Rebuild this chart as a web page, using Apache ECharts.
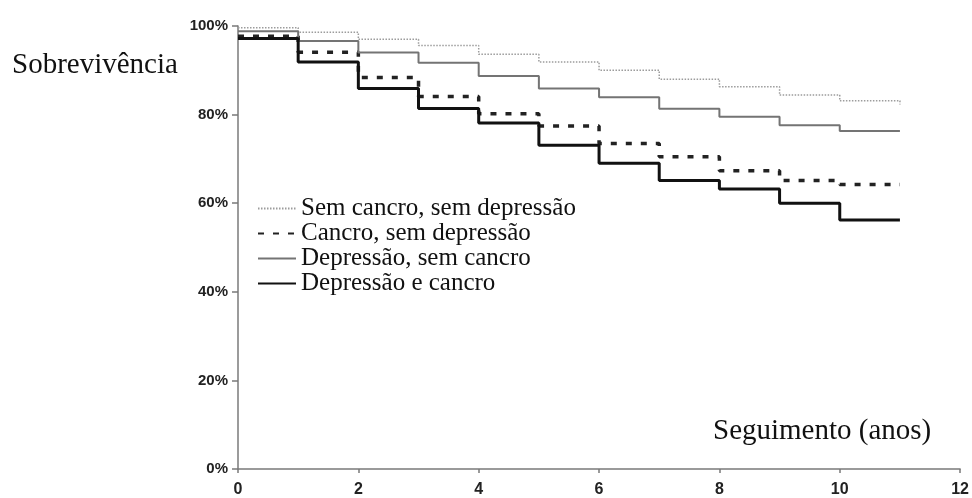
<!DOCTYPE html>
<html>
<head>
<meta charset="utf-8">
<script src="https://cdn.jsdelivr.net/npm/echarts@6/dist/echarts.min.js"></script>
<style>html,body{margin:0;padding:0;background:#fff}#c{width:972px;height:498px}</style>
</head>
<body>
<div id="c"></div>
<script>
// Years of follow-up (step starts); the last point closes the curve at year 11
var years = [0, 1, 2, 3, 4, 5, 6, 7, 8, 9, 10, 11];
var seriesNames = ['Sem cancro, sem depressão', 'Cancro, sem depressão', 'Depressão, sem cancro', 'Depressão e cancro'];
var semCancroSemDepressao = [99.6, 98.6, 97.0, 95.6, 93.6, 91.9, 90.0, 88.0, 86.3, 84.4, 83.1, 82.3];
var cancroSemDepressao   = [97.7, 94.1, 88.4, 84.1, 80.2, 77.4, 73.5, 70.5, 67.3, 65.1, 64.2, 64.2];
var depressaoSemCancro   = [98.8, 96.6, 94.0, 91.7, 88.7, 85.9, 83.9, 81.3, 79.5, 77.6, 76.3, 76.3];
var depressaoECancro     = [97.2, 91.9, 85.9, 81.4, 78.1, 73.1, 69.0, 65.1, 63.2, 60.0, 56.2, 56.2];
var yTickLabels = ['0%', '20%', '40%', '60%', '80%', '100%'];
var xTickLabels = ['0', '2', '4', '6', '8', '10', '12'];
var yTitle = 'Sobrevivência';
var xTitle = 'Seguimento (anos)';

function pairs(vals) { return years.map(function (y, i) { return [y, vals[i]]; }); }

var styles = [
  { color: '#9c9c9c', width: 1.5, type: [1.5, 1.5] },
  { color: '#222222', width: 3.5, type: [6, 9] },
  { color: '#747474', width: 2, type: 'solid' },
  { color: '#111111', width: 3, type: 'solid' }
];
var allVals = [semCancroSemDepressao, cancroSemDepressao, depressaoSemCancro, depressaoECancro];

var chart = echarts.init(document.getElementById('c'), null, { renderer: 'canvas' });
var sansFont = 'Liberation Sans, Arial, sans-serif';
var serifFont = 'Liberation Serif, Times New Roman, serif';

chart.setOption({
  animation: false,
  backgroundColor: '#ffffff',
  title: [
    { text: yTitle, left: 12, top: 51, padding: 0,
      textStyle: { fontFamily: serifFont, fontWeight: 'normal', fontSize: 29, color: '#111', lineHeight: 29 } },
    { text: xTitle, left: 713, top: 417, padding: 0,
      textStyle: { fontFamily: serifFont, fontWeight: 'normal', fontSize: 29, color: '#111', lineHeight: 29 } }
  ],
  legend: {
    orient: 'vertical',
    left: 257, top: 196,
    padding: 0,
    itemGap: 0,
    itemWidth: 38,
    itemHeight: 14,
    data: seriesNames,
    itemStyle: { opacity: 0 },
    textStyle: { fontFamily: serifFont, fontSize: 25, color: '#111', lineHeight: 24.5 }
  },
  grid: { left: 238, right: 10, top: 26, bottom: 29 },
  xAxis: {
    type: 'value', min: 0, max: 12, interval: 2,
    axisLine: { show: true, lineStyle: { color: '#7a7a7a', width: 1.5 } },
    axisTick: { show: true, length: 4, lineStyle: { color: '#7a7a7a', width: 1.5 } },
    axisLabel: { margin: 13, fontFamily: sansFont, fontWeight: 'bold', fontSize: 16, color: '#222',
      formatter: function (v) { return xTickLabels[v / 2]; } },
    splitLine: { show: false }
  },
  yAxis: {
    type: 'value', min: 0, max: 100, interval: 20,
    axisLine: { show: true, lineStyle: { color: '#7a7a7a', width: 1.5 } },
    axisTick: { show: true, length: 6, lineStyle: { color: '#7a7a7a', width: 1.5 } },
    axisLabel: { margin: 10, fontFamily: sansFont, fontWeight: 'bold', fontSize: 15, color: '#222',
      formatter: function (v) { return yTickLabels[v / 20]; } },
    splitLine: { show: false }
  },
  series: seriesNames.map(function (name, i) {
    return {
      name: name, type: 'line', step: 'end', symbol: 'none', showSymbol: false,
      data: pairs(allVals[i]),
      lineStyle: { color: styles[i].color, width: styles[i].width, type: styles[i].type },
      itemStyle: { color: styles[i].color },
      z: 2 + i
    };
  })
});
</script>
</body>
</html>
